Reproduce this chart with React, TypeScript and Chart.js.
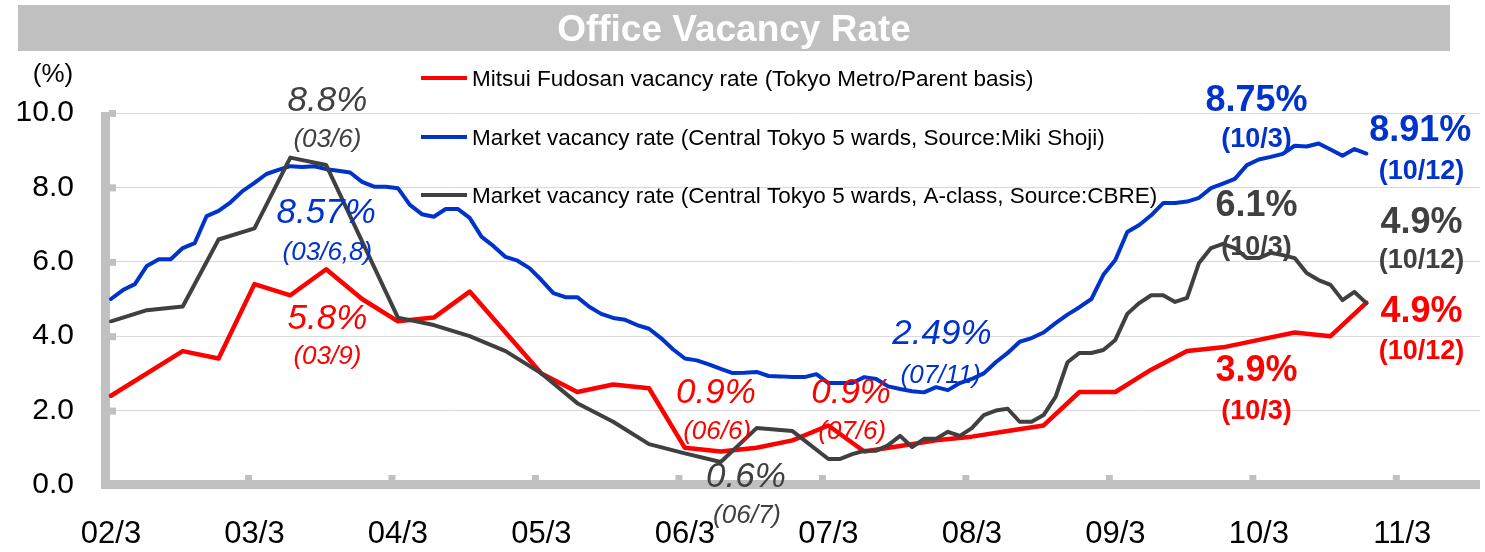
import React, { useEffect, useRef } from 'react';
import { Chart, registerables } from 'chart.js';

Chart.register(...registerables);

const W = 1485;
const H = 552;
const FONT = '"Liberation Sans", Arial, Helvetica, sans-serif';

const titleText = 'Office Vacancy Rate';
const yUnitLabel = '(%)';
const xTickLabels = ['02/3', '03/3', '04/3', '05/3', '06/3', '07/3', '08/3', '09/3', '10/3', '11/3'];

const legendLabels = [
  'Mitsui Fudosan vacancy rate (Tokyo Metro/Parent basis)',
  'Market vacancy rate (Central Tokyo 5 wards, Source:Miki Shoji)',
  'Market vacancy rate (Central Tokyo 5 wards, A-class, Source:CBRE)',
];

const RED = '#ff0000';
const BLUE = '#0033cc';
const GRAY = '#404040';
const AXIS = '#c0c0c0';

// Mitsui Fudosan (quarterly-ish)
const redDates = ['02/3', '02/9', '02/12', '03/3', '03/6', '03/9', '03/12', '04/3', '04/6', '04/9',
  '05/3', '05/6', '05/9', '05/12', '06/3', '06/6', '06/9', '06/12', '07/3', '07/6', '07/9', '07/12',
  '08/3', '08/6', '08/9', '08/12', '09/3', '09/6', '09/9', '09/12', '10/3', '10/6', '10/9', '10/12'];
const redValues = [2.4, 3.6, 3.4, 5.4, 5.1, 5.8, 5.0, 4.4, 4.5, 5.2,
  3.0, 2.5, 2.7, 2.6, 1.0, 0.9, 1.0, 1.2, 1.6, 0.9, 1.05, 1.2,
  1.3, 1.45, 1.6, 2.5, 2.5, 3.1, 3.6, 3.7, 3.9, 4.1, 4.0, 4.9];

// Miki Shoji (monthly from 02/3)
const blueStart = '02/3';
const blueValues = [
  5.0, 5.24, 5.4, 5.89, 6.07, 6.07, 6.37, 6.5, 7.23, 7.37, 7.6, 7.9,
  8.12, 8.36, 8.47, 8.57, 8.55, 8.57, 8.49, 8.45, 8.4, 8.15, 8.02, 8.02,
  7.98, 7.53, 7.28, 7.21, 7.42, 7.42, 7.18, 6.67, 6.42, 6.13, 6.03, 5.83,
  5.51, 5.16, 5.05, 5.05, 4.79, 4.6, 4.49, 4.44, 4.3, 4.2, 3.95, 3.65,
  3.4, 3.35, 3.24, 3.12, 3.01, 3.02, 3.04, 2.93, 2.92, 2.9, 2.9, 2.98,
  2.74, 2.74, 2.74, 2.9, 2.85, 2.65, 2.58, 2.52, 2.49, 2.63, 2.55, 2.74,
  2.85, 3.0, 3.3, 3.55, 3.85, 3.95, 4.1, 4.35, 4.58, 4.78, 5.0, 5.65,
  6.05, 6.8, 6.99, 7.25, 7.58, 7.58, 7.62, 7.72, 7.98, 8.1, 8.23, 8.6,
  8.75, 8.82, 8.9, 9.12, 9.1, 9.18, 9.02, 8.85, 9.03, 8.91,
];

// CBRE A-class (quarterly, then monthly)
const grayQuarterDates = ['02/3', '02/6', '02/9', '02/12', '03/3', '03/6', '03/9', '04/3', '04/6', '04/9',
  '04/12', '05/3', '05/6', '05/9', '05/12', '06/3', '06/6', '06/9', '06/12', '07/3'];
const grayQuarterValues = [4.4, 4.7, 4.8, 6.6, 6.9, 8.8, 8.6, 4.5, 4.3, 4.0,
  3.6, 3.0, 2.2, 1.7, 1.1, 0.85, 0.62, 1.53, 1.45, 0.7];
const grayMonthlyStart = '07/4';
const grayMonthlyValues = [
  0.7, 0.83, 0.92, 0.92, 1.07, 1.32, 1.02, 1.24, 1.24,
  1.43, 1.32, 1.53, 1.88, 2.0, 2.05, 1.7, 1.7, 1.88, 2.37, 3.3, 3.55,
  3.55, 3.63, 3.9, 4.6, 4.89, 5.1, 5.1, 4.92, 5.03, 5.97, 6.37, 6.48,
  6.37, 6.1, 6.1, 6.24, 6.18, 6.1, 5.7, 5.51, 5.38, 4.97, 5.19, 4.89,
];

type Note = { text: string; m: number; v: number; color: string; style: string; size: number };
const notes: Note[] = [
  { text: '8.8%', m: 18.1, v: 10.38, color: GRAY, style: 'italic', size: 35 },
  { text: '(03/6)', m: 18.1, v: 9.33, color: GRAY, style: 'italic', size: 26 },
  { text: '8.57%', m: 18.0, v: 7.39, color: BLUE, style: 'italic', size: 35 },
  { text: '(03/6,8)', m: 18.1, v: 6.29, color: BLUE, style: 'italic', size: 26 },
  { text: '5.8%', m: 18.1, v: 4.54, color: RED, style: 'italic', size: 35 },
  { text: '(03/9)', m: 18.1, v: 3.49, color: RED, style: 'italic', size: 26 },
  { text: '0.9%', m: 50.6, v: 2.55, color: RED, style: 'italic', size: 35 },
  { text: '(06/6)', m: 50.7, v: 1.48, color: RED, style: 'italic', size: 26 },
  { text: '0.9%', m: 61.9, v: 2.55, color: RED, style: 'italic', size: 35 },
  { text: '(07/6)', m: 62.0, v: 1.48, color: RED, style: 'italic', size: 26 },
  { text: '0.6%', m: 53.1, v: 0.28, color: GRAY, style: 'italic', size: 35 },
  { text: '(06/7)', m: 53.2, v: -0.78, color: GRAY, style: 'italic', size: 26 },
  { text: '2.49%', m: 69.5, v: 4.14, color: BLUE, style: 'italic', size: 35 },
  { text: '(07/11)', m: 69.4, v: 3.0, color: BLUE, style: 'italic', size: 26 },
  { text: '8.75%', m: 95.8, v: 10.4, color: BLUE, style: 'bold', size: 36 },
  { text: '(10/3)', m: 95.8, v: 9.35, color: BLUE, style: 'bold', size: 27 },
  { text: '6.1%', m: 95.8, v: 7.58, color: GRAY, style: 'bold', size: 36 },
  { text: '(10/3)', m: 95.8, v: 6.45, color: GRAY, style: 'bold', size: 27 },
  { text: '3.9%', m: 95.8, v: 3.15, color: RED, style: 'bold', size: 36 },
  { text: '(10/3)', m: 95.8, v: 2.04, color: RED, style: 'bold', size: 27 },
  { text: '8.91%', m: 109.5, v: 9.6, color: BLUE, style: 'bold', size: 36 },
  { text: '(10/12)', m: 109.6, v: 8.49, color: BLUE, style: 'bold', size: 27 },
  { text: '4.9%', m: 109.6, v: 7.12, color: GRAY, style: 'bold', size: 36 },
  { text: '(10/12)', m: 109.6, v: 6.08, color: GRAY, style: 'bold', size: 27 },
  { text: '4.9%', m: 109.6, v: 4.73, color: RED, style: 'bold', size: 36 },
  { text: '(10/12)', m: 109.6, v: 3.66, color: RED, style: 'bold', size: 27 },
];

function monthIndex(d: string): number {
  const [yy, mm] = d.split('/').map(Number);
  return (yy - 2) * 12 + (mm - 3);
}

const redData = redDates.map((d, i) => ({ x: monthIndex(d), y: redValues[i] }));
const blueData = blueValues.map((v, i) => ({ x: monthIndex(blueStart) + i, y: v }));
const grayData = [
  ...grayQuarterDates.map((d, i) => ({ x: monthIndex(d), y: grayQuarterValues[i] })),
  ...grayMonthlyValues.map((v, i) => ({ x: monthIndex(grayMonthlyStart) + i, y: v })),
];

const chromePlugin = {
  id: 'chrome',
  beforeDraw(chart: any) {
    const ctx = chart.ctx as CanvasRenderingContext2D;
    ctx.save();
    ctx.fillStyle = '#ffffff';
    ctx.fillRect(0, 0, W, H);
    ctx.fillStyle = AXIS;
    ctx.fillRect(18, 5, 1432, 46);
    ctx.fillStyle = '#ffffff';
    ctx.font = `bold 37px ${FONT}`;
    ctx.textAlign = 'center';
    ctx.textBaseline = 'alphabetic';
    ctx.fillText(titleText, 734, 28 + 0.36 * 37);
    ctx.fillStyle = '#000000';
    ctx.font = `26px ${FONT}`;
    ctx.fillText(yUnitLabel, 53, 73 + 0.36 * 26);
    ctx.restore();
  },
  beforeDatasetsDraw(chart: any) {
    const ctx = chart.ctx as CanvasRenderingContext2D;
    const { left, right, top, bottom } = chart.chartArea;
    const xs = chart.scales.x;
    const ys = chart.scales.y;
    ctx.save();
    ctx.fillStyle = AXIS;
    ctx.fillRect(left - 4, top - 1, 9, bottom - top + 5);
    ctx.fillRect(left - 4, bottom - 5, right - left + 4, 9);
    for (let v = 2; v <= 10; v += 2) {
      const y = ys.getPixelForValue(v);
      ctx.fillRect(left + 4, y - 3, 7, 7);
    }
    for (let k = 1; k < xTickLabels.length; k++) {
      const x = xs.getPixelForValue(k * 12 - 0.5);
      ctx.fillRect(x - 3.5, bottom - 10, 7, 6);
    }
    ctx.restore();
  },
  afterDraw(chart: any) {
    const ctx = chart.ctx as CanvasRenderingContext2D;
    const xs = chart.scales.x;
    const ys = chart.scales.y;
    ctx.save();
    // legend
    const colors = [RED, BLUE, GRAY];
    const rows = [78, 137, 195];
    ctx.font = `22.5px ${FONT}`;
    ctx.textAlign = 'left';
    ctx.textBaseline = 'alphabetic';
    legendLabels.forEach((lbl, i) => {
      ctx.strokeStyle = colors[i];
      ctx.lineWidth = 4;
      ctx.beginPath();
      ctx.moveTo(421, rows[i]);
      ctx.lineTo(467, rows[i]);
      ctx.stroke();
      ctx.fillStyle = '#000000';
      ctx.fillText(lbl, 472, rows[i] + 0.358 * 22.5);
    });
    // annotations
    ctx.textAlign = 'center';
    notes.forEach((n) => {
      ctx.font = `${n.style} ${n.size}px ${FONT}`;
      ctx.fillStyle = n.color;
      const x = xs.getPixelForValue(n.m);
      const y = ys.getPixelForValue(n.v);
      ctx.fillText(n.text, x, y + 0.358 * n.size);
    });
    ctx.restore();
  },
};

export default function App() {
  const ref = useRef<HTMLCanvasElement>(null);
  useEffect(() => {
    if (!ref.current) return;
    const chart = new Chart(ref.current, {
      type: 'line',
      data: {
        datasets: [
          { label: legendLabels[0], data: redData, borderColor: RED, backgroundColor: RED, borderWidth: 4.5, pointRadius: 0, tension: 0, order: 3, borderJoinStyle: 'round', borderCapStyle: 'round', fill: false },
          { label: legendLabels[1], data: blueData, borderColor: BLUE, backgroundColor: BLUE, borderWidth: 4, pointRadius: 0, tension: 0, order: 2, borderJoinStyle: 'round', borderCapStyle: 'round', fill: false },
          { label: legendLabels[2], data: grayData, borderColor: GRAY, backgroundColor: GRAY, borderWidth: 4, pointRadius: 0, tension: 0, order: 1, borderJoinStyle: 'round', borderCapStyle: 'round', fill: false },
        ],
      },
      options: {
        responsive: false,
        animation: false,
        devicePixelRatio: 1,
        parsing: true,
        layout: { padding: { left: 0, right: 5, top: 113, bottom: 7 } },
        plugins: { legend: { display: false }, title: { display: false }, tooltip: { enabled: false } },
        scales: {
          x: {
            type: 'linear',
            min: -0.5,
            max: 114.5,
            grid: { display: false },
            border: { display: false },
            afterBuildTicks: (s: any) => {
              s.ticks = xTickLabels.map((_, i) => ({ value: i * 12 }));
            },
            afterFit: (s: any) => { s.height = 60; },
            ticks: {
              autoSkip: false,
              maxRotation: 0,
              minRotation: 0,
              padding: 23,
              color: '#000000',
              font: { family: FONT, size: 31 },
              callback: (v: any) => xTickLabels[Math.round(Number(v) / 12)],
            },
          },
          y: {
            min: 0,
            max: 10,
            afterFit: (s: any) => { s.width = 105; },
            grid: { color: '#d9d9d9', lineWidth: 1, drawTicks: false },
            border: { display: false },
            ticks: {
              stepSize: 2,
              padding: 31,
              color: '#000000',
              font: { family: FONT, size: 30 },
              callback: (v: any) => Number(v).toFixed(1),
            },
          },
        },
      },
      plugins: [chromePlugin],
    } as any);
    return () => chart.destroy();
  }, []);
  return (
    <div style={{ position: 'absolute', left: 0, top: 0, width: W, height: H }}>
      <canvas ref={ref} width={W} height={H} style={{ width: W, height: H, display: 'block' }} />
    </div>
  );
}
